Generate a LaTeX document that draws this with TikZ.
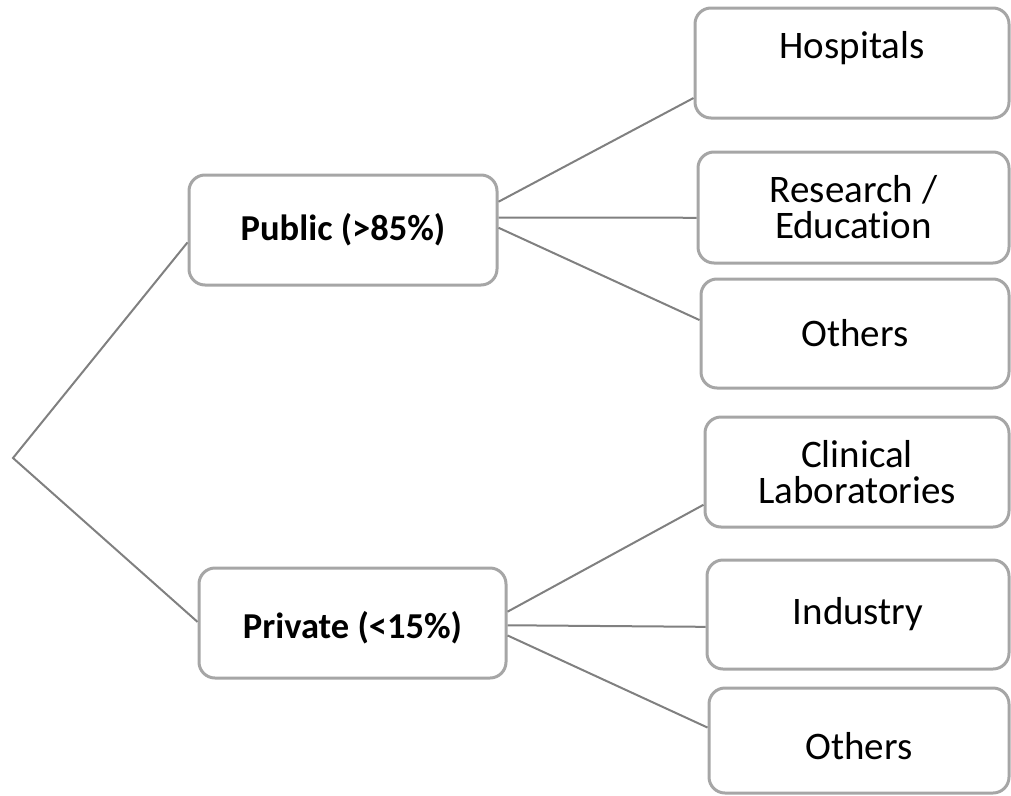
\documentclass[tikz,border=0pt]{standalone}
\usepackage{fontspec}
\setmainfont{Carlito}[Ligatures=NoCommon]
\usetikzlibrary{calc}

\definecolor{boxgray}{RGB}{166,166,166}
\definecolor{linkgray}{RGB}{128,128,128}

\tikzset{
  box/.style={draw=boxgray, line width=3pt, rounded corners=16pt, fill=white,
    align=center, font=\fontsize{39}{36}\selectfont, inner sep=0pt},
  bbox/.style={box, font=\fontsize{36.5}{36}\selectfont\bfseries},
  link/.style={draw=linkgray, line width=2pt},
}

\begin{document}
\begin{tikzpicture}[x=1pt, y=-1pt]
  \useasboundingbox (0,0) rectangle (1011,795);

  % apex of the tree
  \coordinate (root) at (13,458);

  % level one
  \node[bbox, minimum width=308pt, minimum height=110pt] (public) at (343,230) {Public (>85\%)};
  \node[bbox, minimum width=307pt, minimum height=110pt, text height=36pt] (private) at (352.5,623) {Private (<15\%)};

  % level two
  \node[box, minimum width=314pt, minimum height=110pt, text depth=36pt] (hosp) at (852,63) {Hospitals};
  \node[box, minimum width=311pt, minimum height=111pt] (research) at (853.5,207.5) {Research /\\Education};
  \node[box, minimum width=308pt, minimum height=109pt] (othpub) at (855,333.5) {Others};
  \node[box, minimum width=304pt, minimum height=110pt] (clinic) at (857,472) {Clinical\\Laboratories};
  \node[box, minimum width=302pt, minimum height=109pt] (industry) at (858,614.5) {Industry};
  \node[box, minimum width=300pt, minimum height=105pt, text height=38pt] (othpriv) at (859,740.5) {Others};

  % connectors
  \draw[link] ($(public.north west)!0.61!(public.south west)$) -- (root) -- ($(private.north west)!0.49!(private.south west)$);

  \draw[link] ($(public.north east)!0.25!(public.south east)$) -- ($(hosp.north west)!0.81!(hosp.south west)$);
  \draw[link] ($(public.north east)!0.39!(public.south east)$) -- ($(research.north west)!0.59!(research.south west)$);
  \draw[link] ($(public.north east)!0.48!(public.south east)$) -- ($(othpub.north west)!0.38!(othpub.south west)$);

  \draw[link] ($(private.north east)!0.40!(private.south east)$) -- ($(clinic.north west)!0.79!(clinic.south west)$);
  \draw[link] ($(private.north east)!0.52!(private.south east)$) -- ($(industry.north west)!0.61!(industry.south west)$);
  \draw[link] ($(private.north east)!0.61!(private.south east)$) -- ($(othpriv.north west)!0.38!(othpriv.south west)$);
\end{tikzpicture}
\end{document}
